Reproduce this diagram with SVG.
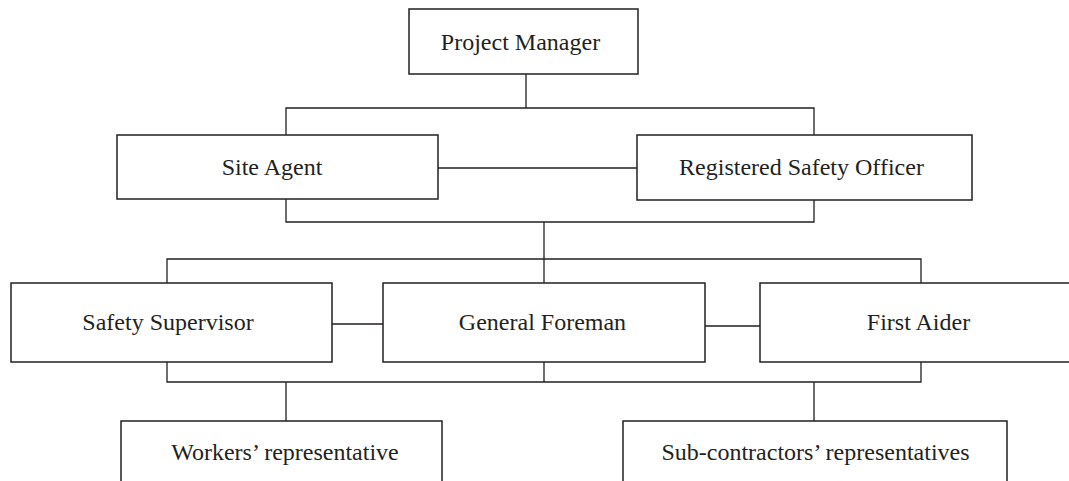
<svg xmlns="http://www.w3.org/2000/svg" width="1069" height="481" viewBox="0 0 1069 481">
<style>
.box{fill:#fff;stroke:#231f20;stroke-width:1.5}
.lbl{font-family:"Liberation Serif","Times New Roman",serif;font-size:24px;fill:#231f20;text-anchor:middle}
.con{fill:none;stroke:#231f20;stroke-width:1.3}
</style>
<rect width="1069" height="481" fill="#fff"/>
<g id="connectors">
<path class="con" d="M526 74V108M286 135V108H814V135"/>
<path class="con" d="M438 168H637"/>
<path class="con" d="M286 199V222H814V200M544 222V283"/>
<path class="con" d="M167 283V259H921V283"/>
<path class="con" d="M332 324H383M705 326H760"/>
<path class="con" d="M167 362V382H921V362M544 362V382"/>
<path class="con" d="M286 382V421M814 382V421"/>
</g>
<g id="project-manager"><rect class="box" x="409" y="9" width="229" height="65"/><text class="lbl" x="520.5" y="50">Project Manager</text></g>
<g id="site-agent"><rect class="box" x="117" y="135" width="321" height="64"/><text class="lbl" x="272" y="175">Site Agent</text></g>
<g id="registered-safety-officer"><rect class="box" x="637" y="135" width="335" height="65"/><text class="lbl" x="801.5" y="175">Registered Safety Officer</text></g>
<g id="safety-supervisor"><rect class="box" x="11" y="283" width="321" height="79"/><text class="lbl" x="168" y="330">Safety Supervisor</text></g>
<g id="general-foreman"><rect class="box" x="383" y="283" width="322" height="79"/><text class="lbl" x="542.5" y="330">General Foreman</text></g>
<g id="first-aider"><rect class="box" x="760" y="283" width="320" height="79"/><text class="lbl" x="918.5" y="330">First Aider</text></g>
<g id="workers-representative"><rect class="box" x="121" y="421" width="321" height="80"/><text class="lbl" x="285" y="460">Workers’ representative</text></g>
<g id="subcontractors-representatives"><rect class="box" x="623" y="421" width="384" height="80"/><text class="lbl" x="815.5" y="460">Sub-contractors’ representatives</text></g>
</svg>
